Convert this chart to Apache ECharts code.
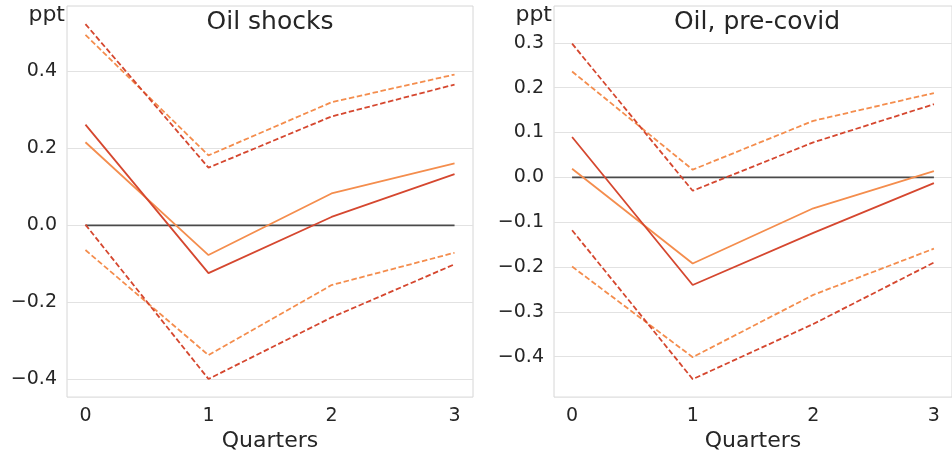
<!DOCTYPE html>
<html>
<head>
<meta charset="utf-8">
<script src="https://cdn.jsdelivr.net/npm/echarts@6/dist/echarts.min.js"></script>
<style>
  html, body { margin: 0; padding: 0; background: #fff; }
  #chart { width: 952px; height: 457px; }
</style>
</head>
<body>
<div id="chart"></div>
<script>
// quarters on the x axis
const quarters = [0, 1, 2, 3]
const xTicks = [0, 1, 2, 3]

// left panel: Oil shocks
const oilRed = [0.262, -0.124, 0.022, 0.133]
const oilRedHi = [0.523, 0.150, 0.283, 0.366]
const oilRedLo = [0.002, -0.399, -0.239, -0.101]
const oilOrange = [0.216, -0.077, 0.083, 0.161]
const oilOrangeHi = [0.495, 0.182, 0.320, 0.392]
const oilOrangeLo = [-0.064, -0.337, -0.155, -0.071]
const oilTicks = [-0.4, -0.2, 0.0, 0.2, 0.4]

// right panel: Oil, pre-covid
const preRed = [0.090, -0.240, -0.124, -0.013]
const preRedHi = [0.298, -0.030, 0.078, 0.163]
const preRedLo = [-0.118, -0.450, -0.327, -0.190]
const preOrange = [0.019, -0.192, -0.069, 0.014]
const preOrangeHi = [0.236, 0.017, 0.126, 0.188]
const preOrangeLo = [-0.199, -0.401, -0.262, -0.159]
const preTicks = [-0.4, -0.3, -0.2, -0.1, 0.0, 0.1, 0.2, 0.3]

const zeroLine = [0, 0, 0, 0]

const red = '#d5472f'
const orange = '#f48d4d'
const textColor = '#262626'
const gridColor = '#e2e2e2'
const font = 'DejaVu Sans'

function pairs(vals) {
  return quarters.map((q, i) => [q, vals[i]])
}

function fmt(v) {
  return v.toFixed(1).replace('-', '\u2212')
}

function lineSeries(idx, vals, color, dashed) {
  return {
    type: 'line',
    xAxisIndex: idx,
    yAxisIndex: idx,
    symbol: 'none',
    silent: true,
    lineStyle: {
      color: color,
      width: 1.8,
      type: dashed ? [5.5, 2.6] : 'solid'
    },
    data: pairs(vals)
  }
}

function xAxis(idx) {
  return {
    type: 'value',
    gridIndex: idx,
    min: -0.15,
    max: 3.15,
    name: 'Quarters',
    nameLocation: 'middle',
    nameGap: 30,
    nameTextStyle: { color: textColor, fontSize: 22, fontFamily: font },
    axisLine: { show: false },
    axisTick: { show: false, customValues: xTicks },
    splitLine: { show: false },
    axisLabel: {
      customValues: xTicks,
      color: textColor,
      fontSize: 19,
      fontFamily: font,
      margin: 9
    }
  }
}

function yAxis(idx, min, max, ticks) {
  return {
    type: 'value',
    gridIndex: idx,
    min: min,
    max: max,
    axisLine: { show: false },
    axisTick: { show: false, customValues: ticks },
    splitLine: { show: true, lineStyle: { color: gridColor, width: 1 } },
    axisLabel: {
      customValues: ticks,
      color: textColor,
      fontSize: 19,
      fontFamily: font,
      margin: 10,
      formatter: fmt
    }
  }
}

function label(text, pos, size) {
  return Object.assign({
    text: text,
    padding: 0,
    textStyle: { color: textColor, fontSize: size, fontWeight: 'normal', fontFamily: font }
  }, pos)
}

const chart = echarts.init(document.getElementById('chart'))
chart.setOption({
  backgroundColor: '#fff',
  animation: false,
  title: [
    label('Oil shocks', { left: 270, top: 10, textAlign: 'center' }, 25),
    label('Oil, pre-covid', { left: 757, top: 10, textAlign: 'center' }, 25),
    label('ppt', { right: 887, top: 4 }, 22),
    label('ppt', { right: 400, top: 4 }, 22)
  ],
  grid: [
    { left: 67, top: 6, width: 406, height: 392, show: true, borderColor: '#d6d6d6', borderWidth: 1 },
    { left: 554, top: 6, width: 406, height: 392, show: true, borderColor: '#d6d6d6', borderWidth: 1 }
  ],
  xAxis: [xAxis(0), xAxis(1)],
  yAxis: [
    yAxis(0, -0.446, 0.570, oilTicks),
    yAxis(1, -0.490, 0.382, preTicks)
  ],
  series: [
    lineSeries(0, zeroLine, '#4a4a4a', false),
    lineSeries(0, oilOrangeHi, orange, true),
    lineSeries(0, oilOrangeLo, orange, true),
    lineSeries(0, oilRedHi, red, true),
    lineSeries(0, oilRedLo, red, true),
    lineSeries(0, oilOrange, orange, false),
    lineSeries(0, oilRed, red, false),
    lineSeries(1, zeroLine, '#4a4a4a', false),
    lineSeries(1, preOrangeHi, orange, true),
    lineSeries(1, preOrangeLo, orange, true),
    lineSeries(1, preRedHi, red, true),
    lineSeries(1, preRedLo, red, true),
    lineSeries(1, preOrange, orange, false),
    lineSeries(1, preRed, red, false)
  ]
})
</script>
</body>
</html>
